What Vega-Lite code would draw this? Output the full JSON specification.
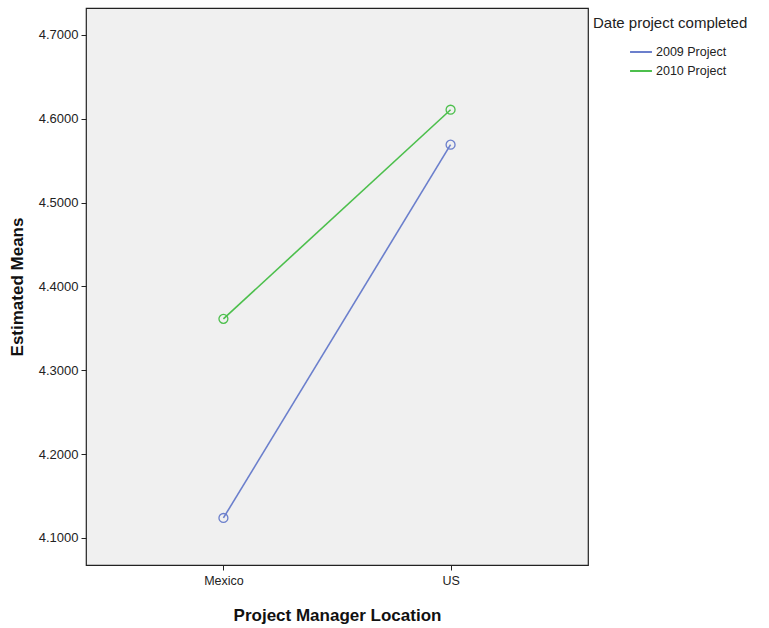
{
  "$schema": "https://vega.github.io/schema/vega-lite/v6.json",
  "autosize": {"type": "none"},
  "padding": {"left": 86, "top": 8, "right": 181, "bottom": 63},
  "width": 502,
  "height": 557,
  "background": "white",
  "config": {
    "font": "Liberation Sans",
    "view": {"fill": "#f0f0f0", "stroke": "#222222", "strokeWidth": 1.2}
  },
  "data": {
    "values": [
      {"location": "Mexico", "project": "2009 Project", "mean": 4.1239},
      {"location": "US", "project": "2009 Project", "mean": 4.569},
      {"location": "Mexico", "project": "2010 Project", "mean": 4.3613},
      {"location": "US", "project": "2010 Project", "mean": 4.6107}
    ]
  },
  "mark": {"type": "line", "strokeWidth": 1.6, "point": {"filled": false, "size": 80, "strokeWidth": 1.3}},
  "encoding": {
    "x": {
      "field": "location", "type": "nominal",
      "scale": {"type": "point", "padding": 0.605},
      "axis": {
        "title": "Project Manager Location", "titleFontSize": 17, "titleFontWeight": "bold",
        "titleColor": "#111", "titlePadding": 21, "labelAngle": 0, "labelFontSize": 12.5,
        "labelColor": "#222", "domain": false, "tickColor": "#222", "tickSize": 5, "labelPadding": 4,
        "grid": false
      }
    },
    "y": {
      "field": "mean", "type": "quantitative",
      "scale": {"domain": [4.0678, 4.732], "nice": false, "zero": false},
      "axis": {
        "title": "Estimated Means", "titleFontSize": 17, "titleFontWeight": "bold",
        "titleColor": "#111", "titlePadding": 12, "values": [4.1, 4.2, 4.3, 4.4, 4.5, 4.6, 4.7],
        "format": ".4f", "labelFontSize": 13, "labelColor": "#222", "domain": false,
        "tickColor": "#222", "tickSize": 5, "grid": false, "labelPadding": 3
      }
    },
    "color": {
      "field": "project", "type": "nominal",
      "scale": {"domain": ["2009 Project", "2010 Project"], "range": ["#6b7fcc", "#4cbf4c"]},
      "legend": {
        "title": "Date project completed", "orient": "none", "legendX": 507, "legendY": 8,
        "titleFontSize": 15, "titleFontWeight": "normal", "titleColor": "#222",
        "labelFontSize": 12.5, "labelColor": "#222", "symbolType": "stroke",
        "symbolSize": 480, "symbolStrokeWidth": 2, "symbolOffset": 36, "rowPadding": 0,
        "titlePadding": 9, "labelOffset": 3
      }
    }
  }
}
